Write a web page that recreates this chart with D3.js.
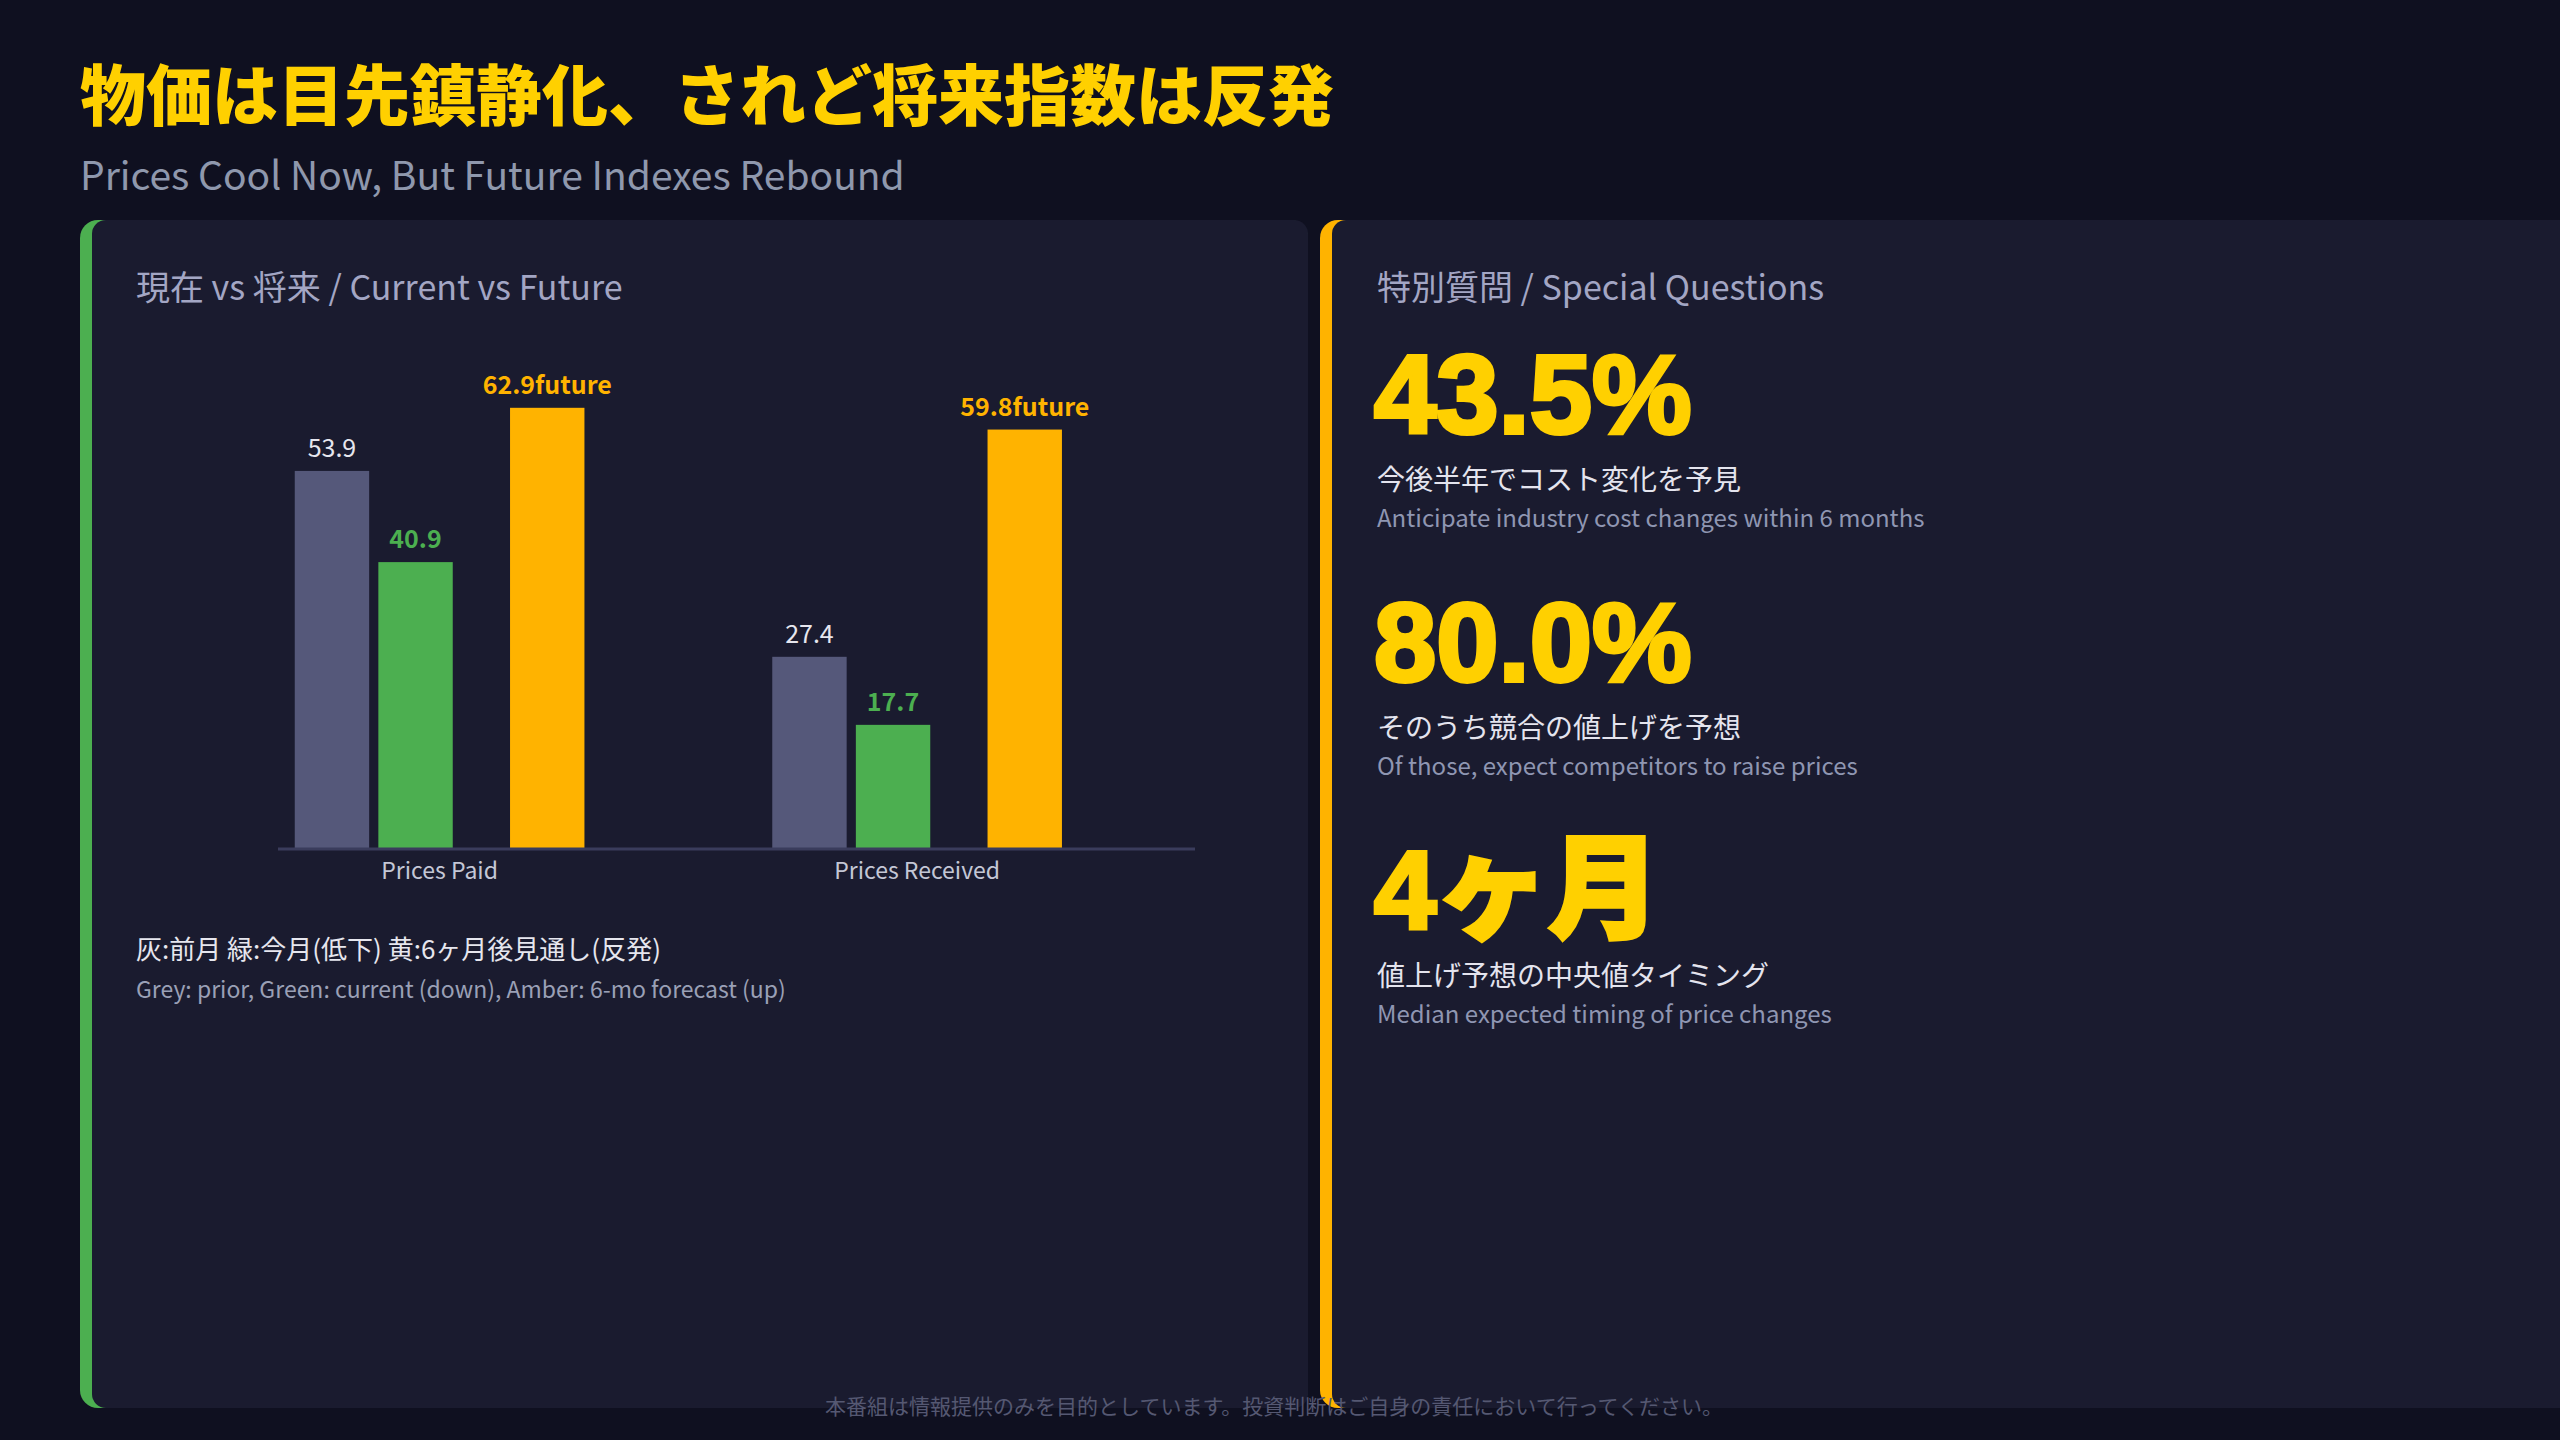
<!DOCTYPE html>
<html><head><meta charset="utf-8">
<script src="https://cdn.jsdelivr.net/npm/d3@7/dist/d3.min.js"></script>
<style>html,body{margin:0;padding:0;background:#0f1020;}svg{display:block;}</style>
</head><body>
<script>
const categories = ["Prices Paid", "Prices Received"];
const prior = [53.9, 27.4];
const current = [40.9, 17.7];
const future = [62.9, 59.8];
const legendJP = "灰:前月 緑:今月(低下) 黄:6ヶ月後見通し(反発)";
const legendEN = "Grey: prior, Green: current (down), Amber: 6-mo forecast (up)";
const statValues = ["43.5%", "80.0%", "4ヶ月"];
const statJP = ["今後半年でコスト変化を予見", "そのうち競合の値上げを予想", "値上げ予想の中央値タイミング"];
const statEN = ["Anticipate industry cost changes within 6 months", "Of those, expect competitors to raise prices", "Median expected timing of price changes"];

const W = 2560, H = 1440;
const F = "'Noto Sans CJK JP','Noto Sans',sans-serif";
const svg = d3.select("body").append("svg").attr("width", W).attr("height", H);
svg.append("rect").attr("width", W).attr("height", H).attr("fill", "#0f1020");

svg.append("text").attr("x", 80).attr("y", 120).attr("fill", "#ffd000").attr("font-family", F)
  .attr("font-weight", 900).attr("font-size", 66).text("物価は目先鎮静化、されど将来指数は反発");
svg.append("text").attr("x", 80).attr("y", 190).attr("fill", "#8f98ad").attr("font-family", F)
  .attr("font-size", 39).text("Prices Cool Now, But Future Indexes Rebound");

function panel(x, w, color) {
  const g = svg.append("g");
  g.append("rect").attr("x", x).attr("y", 220).attr("width", w).attr("height", 1188).attr("rx", 18).attr("fill", color);
  g.append("rect").attr("x", x + 12).attr("y", 220).attr("width", w - 12).attr("height", 1188).attr("rx", 14).attr("fill", "#1a1b2f");
}
panel(80, 1228, "#4caf50");
panel(1320, 1280, "#ffb300");

svg.append("text").attr("x", 136).attr("y", 300).attr("fill", "#a3a6c4").attr("font-family", F)
  .attr("font-size", 34).text("現在 vs 将来 / Current vs Future");

// chart
const y = d3.scaleLinear().domain([0, 70]).range([849, 358]);
const x0 = d3.scaleBand().domain(categories).range([180, 1135]).paddingInner(0).paddingOuter(0);
const x1 = d3.scaleBand().domain(["prior", "current"]).range([x0.bandwidth()/2 - 124, x0.bandwidth()/2 + 34]).paddingInner(0.11);
const bw = x1.bandwidth();
const futureOffset = x1("current") + 2.77 * bw - bw; // amber bar sits past current
const series = [
  {key: "prior", vals: prior, color: "#55587a", label: "#e6e6ee", weight: 400, suffix: "", pos: i => x0(categories[i]) + x1("prior")},
  {key: "current", vals: current, color: "#4caf50", label: "#4caf50", weight: 700, suffix: "", pos: i => x0(categories[i]) + x1("current")},
  {key: "future", vals: future, color: "#ffb300", label: "#ffb300", weight: 700, suffix: "future", pos: i => x0(categories[i]) + futureOffset}
];
const chart = svg.append("g");
series.forEach(s => {
  chart.selectAll(null).data(s.vals).enter().append("rect")
    .attr("x", (d, i) => s.pos(i)).attr("y", d => y(d)).attr("width", bw).attr("height", d => y(0) - y(d)).attr("fill", s.color);
  chart.selectAll(null).data(s.vals).enter().append("text")
    .attr("x", (d, i) => s.pos(i) + bw / 2).attr("y", d => y(d) - 14).attr("text-anchor", "middle")
    .attr("fill", s.label).attr("font-weight", s.weight).attr("font-family", F).attr("font-size", 25)
    .text(d => d.toFixed(1) + s.suffix);
});
const xAxis = d3.axisBottom(x0).tickSize(0).tickPadding(14);
const ax = svg.append("g").attr("transform", `translate(0,${y(0)})`).call(xAxis);
ax.select(".domain").attr("d", "M278,0H1195").attr("stroke", "#3a3c5c").attr("stroke-width", 3);
ax.selectAll(".tick text").attr("font-family", F).attr("font-size", 23).attr("fill", "#c4c7d6")
  .attr("transform", (d) => `translate(${(x1("prior") + futureOffset + bw) / 2 - x0.bandwidth()/2},0)`);

svg.append("text").attr("x", 136).attr("y", 959).attr("fill", "#e6e6ee").attr("font-family", F).attr("font-size", 26).text(legendJP);
svg.append("text").attr("x", 136).attr("y", 998).attr("fill", "#9aa0b6").attr("font-family", F).attr("font-size", 23).text(legendEN);

// right panel
svg.append("text").attr("x", 1377).attr("y", 300).attr("fill", "#a3a6c4").attr("font-family", F)
  .attr("font-size", 34).text("特別質問 / Special Questions");
statValues.forEach((v, i) => {
  const by = 433 + i * 248;
  svg.append("text").attr("x", 1374).attr("y", by).attr("fill", "#ffd000").attr("font-family", "'Liberation Sans','Noto Sans CJK JP',sans-serif")
    .attr("font-weight", 900).attr("font-size", 112).attr("stroke", "#ffd000").attr("stroke-width", 4).text(v);
  svg.append("text").attr("x", 1377).attr("y", by + 57).attr("fill", "#e4e4ee").attr("font-family", F).attr("font-size", 28).text(statJP[i]);
  svg.append("text").attr("x", 1377).attr("y", by + 94).attr("fill", "#8f96b2").attr("font-family", F).attr("font-size", 24).text(statEN[i]);
});

svg.append("text").attr("x", 1274).attr("y", 1414).attr("text-anchor", "middle").attr("fill", "#555872")
  .attr("font-family", F).attr("font-size", 21).text("本番組は情報提供のみを目的としています。投資判断はご自身の責任において行ってください。");
</script>
</body></html>
